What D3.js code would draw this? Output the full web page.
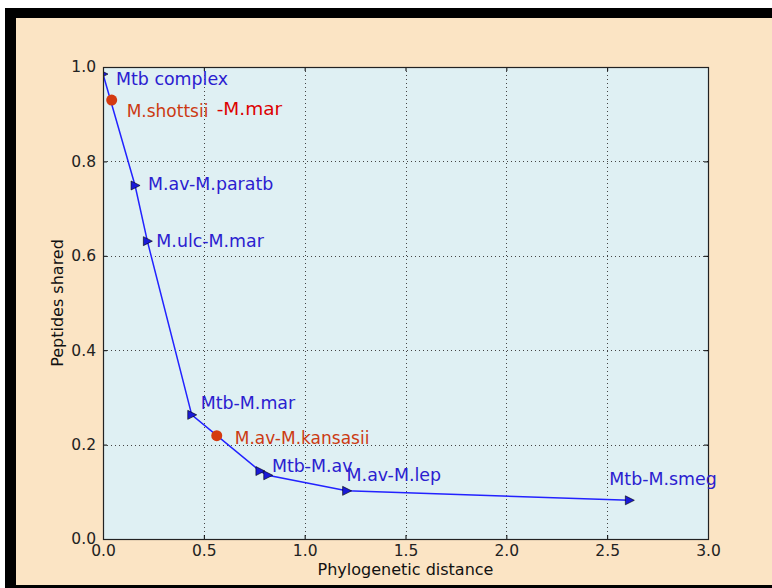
<!DOCTYPE html>
<html>
<head>
<meta charset="utf-8">
<script src="https://cdn.jsdelivr.net/npm/d3@7"></script>
<style>
  html, body { margin: 0; padding: 0; background: #fff; }
  svg { display: block; font-family: "DejaVu Sans", sans-serif; }
</style>
</head>
<body>
<svg id="chart" width="772" height="588"></svg>
<script>
// pairs along the curve (blue triangles)
const pairLabels = ["Mtb complex", "M.av-M.paratb", "M.ulc-M.mar", "Mtb-M.mar", "Mtb-M.av", "", "M.av-M.lep", "Mtb-M.smeg"];
const pairDistance = [0.0, 0.159, 0.22, 0.44, 0.778, 0.817, 1.208, 2.61];
const pairShared = [0.985, 0.749, 0.631, 0.263, 0.144, 0.135, 0.102, 0.082];

// highlighted pairs (red dots)
const redLabels = ["M.shottsii", "M.av-M.kansasii"];
const redDistance = [0.043, 0.564];
const redShared = [0.93, 0.219];

const xTicks = [0, 0.5, 1, 1.5, 2, 2.5, 3];
const yTicks = [0, 0.2, 0.4, 0.6, 0.8, 1.0];

const svg = d3.select("#chart");

// frame
svg.append("rect").attr("x", 5).attr("y", 8).attr("width", 767).attr("height", 580).attr("fill", "#000");
svg.append("rect").attr("x", 16).attr("y", 18).attr("width", 756).attr("height", 567).attr("fill", "#fbe4c4");

const plotLeft = 103, plotRight = 708, plotTop = 67, plotBottom = 539;
const x = d3.scaleLinear().domain([0, 3]).range([plotLeft, plotRight]);
const y = d3.scaleLinear().domain([0, 1]).range([plotBottom, plotTop]);

svg.append("clipPath").attr("id", "plot-clip")
  .append("rect")
  .attr("x", plotLeft).attr("y", plotTop)
  .attr("width", plotRight - plotLeft).attr("height", plotBottom - plotTop);

svg.append("rect")
  .attr("x", plotLeft).attr("y", plotTop)
  .attr("width", plotRight - plotLeft).attr("height", plotBottom - plotTop)
  .attr("fill", "#dff0f3");

// dotted grid
const grid = svg.append("g").attr("stroke", "#444").attr("stroke-width", 1)
  .attr("stroke-dasharray", "1,3");
grid.selectAll(".gx").data(xTicks.slice(1, -1)).join("line")
  .attr("x1", (d) => Math.round(x(d)) + 0.5).attr("x2", (d) => Math.round(x(d)) + 0.5)
  .attr("y1", plotTop).attr("y2", plotBottom);
grid.selectAll(".gy").data(yTicks.slice(1, -1)).join("line")
  .attr("y1", (d) => Math.round(y(d)) + 0.5).attr("y2", (d) => Math.round(y(d)) + 0.5)
  .attr("x1", plotLeft).attr("x2", plotRight);

// axes with inward ticks
const tickFmt = d3.format(".1f");
svg.append("g").attr("transform", `translate(0,${plotBottom})`)
  .call(d3.axisBottom(x).tickValues(xTicks).tickFormat(tickFmt).tickSizeInner(-4).tickSizeOuter(0).tickPadding(6))
  .call((g) => g.select(".domain").remove());
svg.append("g").attr("transform", `translate(0,${plotTop})`)
  .call(d3.axisTop(x).tickValues(xTicks).tickFormat("").tickSizeInner(-4).tickSizeOuter(0))
  .call((g) => g.select(".domain").remove());
svg.append("g").attr("transform", `translate(${plotLeft},0)`)
  .call(d3.axisLeft(y).tickValues(yTicks).tickFormat(tickFmt).tickSizeInner(-4).tickSizeOuter(0).tickPadding(7))
  .call((g) => g.select(".domain").remove());
svg.append("g").attr("transform", `translate(${plotRight},0)`)
  .call(d3.axisRight(y).tickValues(yTicks).tickFormat("").tickSizeInner(-4).tickSizeOuter(0))
  .call((g) => g.select(".domain").remove());
svg.selectAll(".tick text").attr("font-size", 15.5).attr("fill", "#222")
  .attr("font-family", "DejaVu Sans");
svg.selectAll(".tick line").attr("stroke", "#000");

// curve
const pts = pairDistance.map((d, i) => [x(d), y(pairShared[i])]);
const marks = svg.append("g").attr("clip-path", "url(#plot-clip)");
marks.append("path")
  .attr("d", d3.line()(pts))
  .attr("fill", "none").attr("stroke", "#2222ff").attr("stroke-width", 1.5);

marks.append("g").selectAll("path").data(pts).join("path")
  .attr("d", "M-4,-4.5L5,0L-4,4.5Z")
  .attr("transform", (p) => `translate(${p[0]},${p[1]})`)
  .attr("fill", "#1a1ad8").attr("stroke", "#000").attr("stroke-width", 0.6);

marks.append("g").selectAll("circle").data(redDistance).join("circle")
  .attr("cx", (d) => x(d)).attr("cy", (d, i) => y(redShared[i]))
  .attr("r", 5.5).attr("fill", "#d43a10");

svg.append("rect")
  .attr("x", plotLeft + 0.5).attr("y", plotTop + 0.5)
  .attr("width", plotRight - plotLeft).attr("height", plotBottom - plotTop)
  .attr("fill", "none").attr("stroke", "#222").attr("stroke-width", 1.2);

// annotations
const pairLabelOffset = [[13, 11], [13, 5], [9, 6], [9, -6], [12, 1], [0, 0], [0, -10], [-20, -15]];
svg.append("g").selectAll("text").data(pairLabels).join("text")
  .attr("x", (d, i) => pts[i][0] + pairLabelOffset[i][0])
  .attr("y", (d, i) => pts[i][1] + pairLabelOffset[i][1])
  .attr("font-size", 17.4).attr("fill", "#2b20d0")
  .text((d) => d);

const redLabelOffset = [[15, 17], [18, 8]];
svg.append("g").selectAll("text").data(redLabels).join("text")
  .attr("x", (d, i) => x(redDistance[i]) + redLabelOffset[i][0])
  .attr("y", (d, i) => y(redShared[i]) + redLabelOffset[i][1])
  .attr("font-size", 17).attr("fill", "#cc3a12")
  .text((d) => d);
svg.append("text")
  .attr("x", x(redDistance[0]) + 105).attr("y", y(redShared[0]) + 15)
  .attr("font-size", 18.5).attr("fill", "#dd0000")
  .text("-M.mar");

// axis titles
svg.append("text")
  .attr("x", (plotLeft + plotRight) / 2).attr("y", 575)
  .attr("text-anchor", "middle").attr("font-size", 16).attr("fill", "#111")
  .text("Phylogenetic distance");
svg.append("text")
  .attr("transform", `translate(63,${(plotTop + plotBottom) / 2}) rotate(-90)`)
  .attr("text-anchor", "middle").attr("font-size", 16).attr("fill", "#111")
  .text("Peptides shared");
</script>
</body>
</html>
